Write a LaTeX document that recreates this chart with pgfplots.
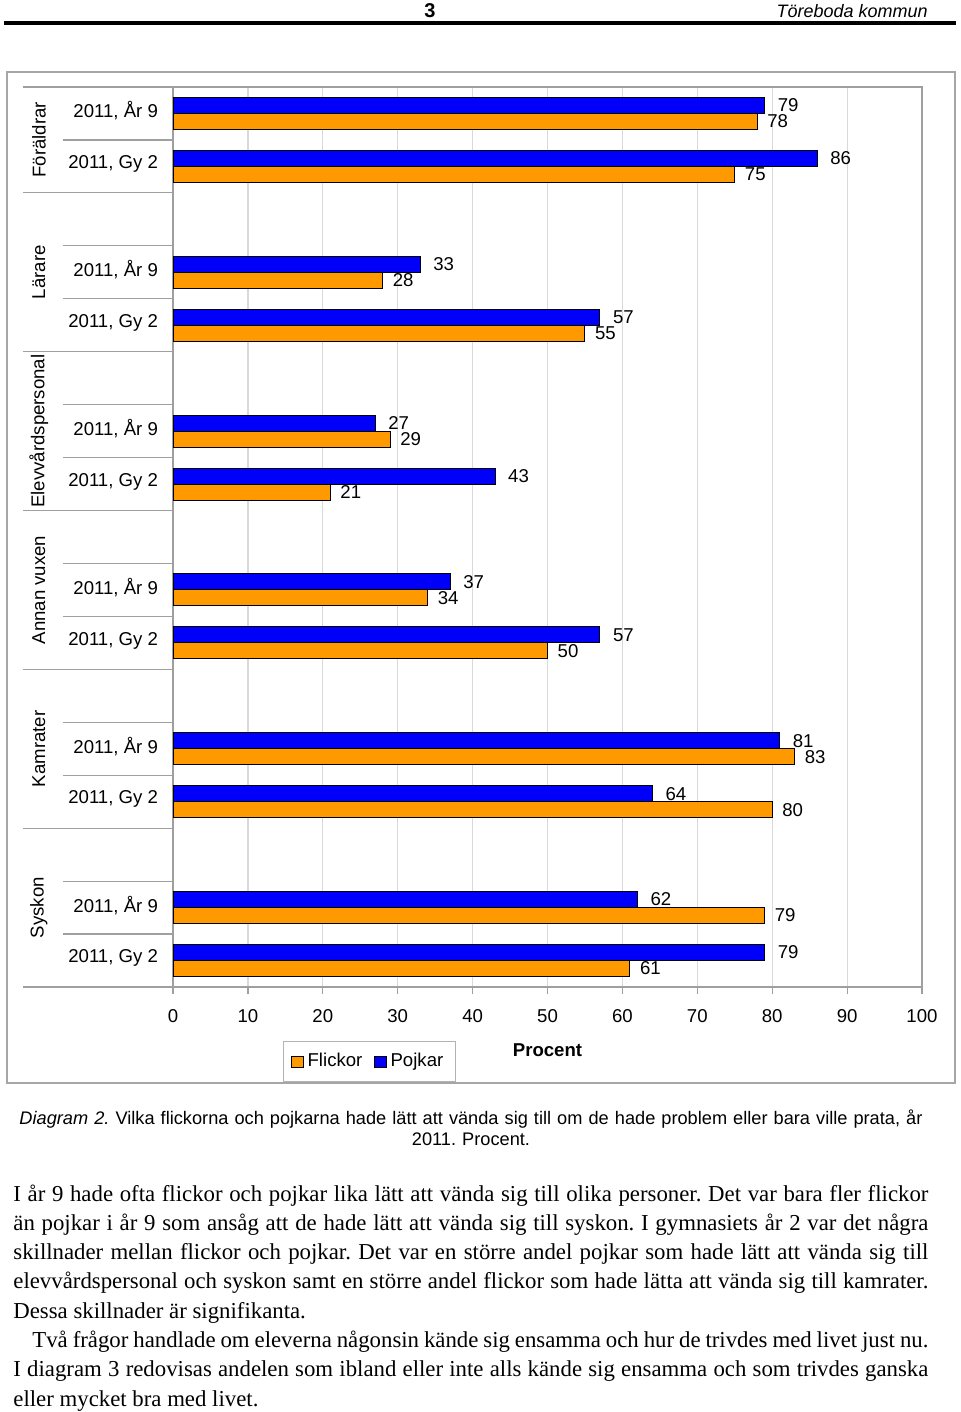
\documentclass[border=0pt]{standalone}
\usepackage{pgfplots}
\pgfplotsset{compat=1.18}
\usepackage{fontspec}
\setmainfont{Liberation Sans}
\newfontfamily\timesfont{Liberation Serif}
\definecolor{pojk}{RGB}{0,0,250}
\definecolor{flick}{RGB}{255,153,0}
\newcommand\cf{\fontsize{9.3}{11}\selectfont}
\newcommand\hl[1]{\hbox to 457.5pt{#1}}
\pgfplotsset{sqlegend/.style={legend image code/.code={\draw[##1] (0pt,-2.8pt) rectangle (5.6pt,2.8pt);}}}
\frenchspacing
\begin{document}
\begin{tikzpicture}[x=0.5pt,y=-0.5pt]
\path[use as bounding box] (0,0) rectangle (960,1412);
% header
\node[font=\fontsize{10}{11}\selectfont\bfseries] at (430,11) {3};
\node[font=\fontsize{9}{11}\selectfont\itshape, anchor=east, inner sep=0pt] at (928,11) {Töreboda kommun};
\draw[line width=1.7pt] (4,23) -- (956,23);
% chart frame
\draw[gray!70, line width=0.6pt] (7,72) rectangle (955,1083);
\begin{axis}[
  at={(86.5pt,-43.5pt)}, anchor=north west,
  scale only axis, width=374.5pt, height=450pt,
  xbar, bar width=8pt,
  xmin=0, xmax=100, ymin=-16.5, ymax=0.5,
  xtick={0,10,...,100},
  xmajorgrids, grid style={gray!30, line width=0.6pt},
  axis line style={gray!75, line width=0.6pt},
  tick align=outside, xtick pos=bottom, ytick pos=left,
  major tick length=3.5pt,
  xtick style={gray!75, line width=0.6pt},
  ytick style={draw=none},
  ytick={0,-1,-3,-4,-6,-7,-9,-10,-12,-13,-15,-16},
  yticklabels={{2011, År 9},{2011, Gy 2},{2011, År 9},{2011, Gy 2},{2011, År 9},{2011, Gy 2},{2011, År 9},{2011, Gy 2},{2011, År 9},{2011, Gy 2},{2011, År 9},{2011, Gy 2}},
  yticklabel style={font=\cf, xshift=-0.5pt, yshift=1.2pt},
  xticklabel style={font=\cf, yshift=-4pt},
  /pgf/number format/assume math mode=true,
  xlabel={Procent},
  xlabel style={font=\cf\bfseries, at={(axis description cs:0.5,0)}, anchor=center, yshift=-31.5pt},
  nodes near coords,
  every node near coord/.append style={font=\cf, black},
  clip=false,
  sqlegend,
  legend columns=2,
  legend style={at={(0.1469,-0.06)}, anchor=north west, draw=gray!60, font=\cf,
    inner xsep=4pt, inner ysep=4pt,
    /tikz/every even column/.append style={column sep=4pt}},
]
\addplot[fill=flick, draw=black, line width=0.5pt, bar shift=-4pt,
  every node near coord/.append style={xshift=1.5pt}]
  coordinates {(78,0) (75,-1) (28,-3) (55,-4) (29,-6) (21,-7) (34,-9) (50,-10) (83,-12) (80,-13) (79,-15) (61,-16)};
\addplot[fill=pojk, draw=black, line width=0.5pt, bar shift=4pt,
  every node near coord/.append style={xshift=3pt}]
  coordinates {(79,0) (86,-1) (33,-3) (57,-4) (27,-6) (43,-7) (37,-9) (57,-10) (81,-12) (64,-13) (62,-15) (79,-16)};
\legend{Flickor, Pojkar}
% separator lines in label area
\draw[gray!75, line width=0.6pt] (axis cs:-20.03,0.5) -- (axis cs:0,0.5);
\draw[gray!75, line width=0.6pt] (axis cs:-20.03,-1.5) -- (axis cs:0,-1.5);
\draw[gray!75, line width=0.6pt] (axis cs:-20.03,-4.5) -- (axis cs:0,-4.5);
\draw[gray!75, line width=0.6pt] (axis cs:-20.03,-7.5) -- (axis cs:0,-7.5);
\draw[gray!75, line width=0.6pt] (axis cs:-20.03,-10.5) -- (axis cs:0,-10.5);
\draw[gray!75, line width=0.6pt] (axis cs:-20.03,-13.5) -- (axis cs:0,-13.5);
\draw[gray!75, line width=0.6pt] (axis cs:-20.03,-16.5) -- (axis cs:0,-16.5);
\draw[gray!75, line width=0.6pt] (axis cs:-14.69,-0.5) -- (axis cs:0,-0.5);
\draw[gray!75, line width=0.6pt] (axis cs:-14.69,-2.5) -- (axis cs:0,-2.5);
\draw[gray!75, line width=0.6pt] (axis cs:-14.69,-3.5) -- (axis cs:0,-3.5);
\draw[gray!75, line width=0.6pt] (axis cs:-14.69,-5.5) -- (axis cs:0,-5.5);
\draw[gray!75, line width=0.6pt] (axis cs:-14.69,-6.5) -- (axis cs:0,-6.5);
\draw[gray!75, line width=0.6pt] (axis cs:-14.69,-8.5) -- (axis cs:0,-8.5);
\draw[gray!75, line width=0.6pt] (axis cs:-14.69,-9.5) -- (axis cs:0,-9.5);
\draw[gray!75, line width=0.6pt] (axis cs:-14.69,-11.5) -- (axis cs:0,-11.5);
\draw[gray!75, line width=0.6pt] (axis cs:-14.69,-12.5) -- (axis cs:0,-12.5);
\draw[gray!75, line width=0.6pt] (axis cs:-14.69,-14.5) -- (axis cs:0,-14.5);
\draw[gray!75, line width=0.6pt] (axis cs:-14.69,-15.5) -- (axis cs:0,-15.5);
\node[rotate=90, font=\cf] at (axis cs:-17.9,-0.5) {Föräldrar};
\node[rotate=90, font=\cf] at (axis cs:-17.9,-3) {Lärare};
\node[rotate=90, font=\cf] at (axis cs:-17.9,-6) {Elevvårdspersonal};
\node[rotate=90, font=\cf] at (axis cs:-17.9,-9) {Annan vuxen};
\node[rotate=90, font=\cf] at (axis cs:-17.9,-12) {Kamrater};
\node[rotate=90, font=\cf] at (axis cs:-17.9,-15) {Syskon};
\end{axis}
% caption
\node[align=center, text width=470pt, font=\fontsize{9.1}{10.6}\selectfont] at (471,1128)
  {\textit{Diagram 2.} Vilka flickorna och pojkarna hade lätt att vända sig till om de hade problem eller bara ville prata, år\\ 2011. Procent.};
% body text
\node[anchor=base west, inner sep=0pt] at (13,1201) {\parbox[t]{457.5pt}{\timesfont\fontsize{11.4}{14.65}\selectfont
\hl{I år 9 hade ofta flickor och pojkar lika lätt att vända sig till olika personer. Det var bara fler flickor}
\hl{än pojkar i år 9 som ansåg att de hade lätt att vända sig till syskon. I gymnasiets år 2 var det några}
\hl{skillnader mellan flickor och pojkar. Det var en större andel pojkar som hade lätt att vända sig till}
\hl{elevvårdspersonal och syskon samt en större andel flickor som hade lätta att vända sig till kamrater.}
\hbox{Dessa skillnader är signifikanta.}
\hl{\hskip 9.5pt Två frågor handlade om eleverna någonsin kände sig ensamma och hur de trivdes med livet just nu.}
\hl{I diagram 3 redovisas andelen som ibland eller inte alls kände sig ensamma och som trivdes ganska}
\hbox{eller mycket bra med livet.}}};
\end{tikzpicture}
\end{document}
